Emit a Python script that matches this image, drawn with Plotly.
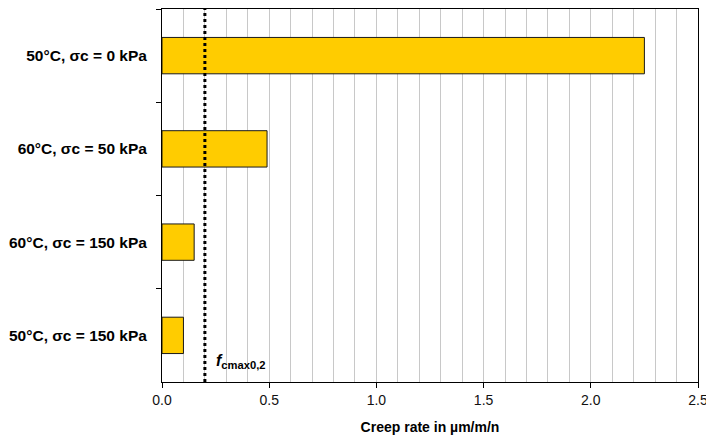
import plotly.graph_objects as go

# Creep rate per test condition (µm/m/n)
conditions = [
    "50°C, σc = 0 kPa",
    "60°C, σc = 50 kPa",
    "60°C, σc = 150 kPa",
    "50°C, σc = 150 kPa",
]
creep_rates = [2.25, 0.49, 0.15, 0.10]
f_cmax_limit = 0.2

FONT = "Liberation Sans, Arial, sans-serif"

fig = go.Figure()
fig.add_trace(go.Bar(
    x=creep_rates,
    y=conditions,
    orientation="h",
    marker=dict(color="#FFCC00", line=dict(color="#1a1a1a", width=1)),
    width=0.39,
    hoverinfo="x+y",
))

# Limit line f_cmax0,2
fig.add_shape(
    type="line", xref="x", yref="paper",
    x0=f_cmax_limit, x1=f_cmax_limit, y0=0, y1=1,
    line=dict(color="black", width=3, dash="dot"),
)
fig.add_annotation(
    x=f_cmax_limit, xref="x", xshift=9, xanchor="left",
    y=0.055, yref="paper", yanchor="middle",
    text="<b><i>f</i></b><b><sub>cmax0,2</sub></b>",
    showarrow=False,
    font=dict(family=FONT, size=16, color="black"),
)

fig.update_layout(
    width=706, height=435,
    margin=dict(l=162, r=8, t=9, b=53),
    paper_bgcolor="white", plot_bgcolor="white",
    showlegend=False,
    font=dict(family=FONT, color="black"),
    xaxis=dict(
        range=[0, 2.5], dtick=0.5, tickformat=".1f",
        automargin=False, ticklabeloverflow="allow",
        showgrid=True, gridcolor="#c8c8c8", gridwidth=1,
        minor=dict(dtick=0.1, showgrid=True, gridcolor="#c8c8c8", gridwidth=1),
        ticks="outside", ticklen=5, tickcolor="black",
        showline=True, linecolor="black", linewidth=1, mirror=True,
        zeroline=False,
        tickfont=dict(size=14, color="#111"),
        title=dict(text="<b>Creep rate in µm/m/n</b>", font=dict(size=14), standoff=16),
    ),
    yaxis=dict(
        autorange="reversed", automargin=False,
        categoryorder="array", categoryarray=conditions,
        tickson="boundaries", ticks="outside", ticklen=5, tickcolor="black",
        showline=True, linecolor="black", linewidth=1, mirror=True,
        showgrid=False,
        tickfont=dict(size=15.5, color="black", weight="bold"),
        ticklabelstandoff=11,
    ),
)

fig.write_html("out.html")
